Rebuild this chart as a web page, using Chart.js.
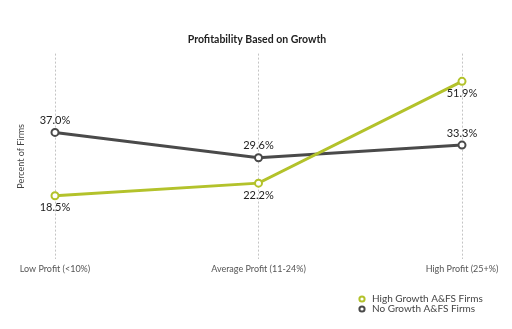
<!DOCTYPE html>
<html>
<head>
<meta charset="utf-8">
<script src="https://cdn.jsdelivr.net/npm/chart.js@4.4.1/dist/chart.umd.min.js"></script>
<style>
  html, body { margin: 0; padding: 0; background: #fff; }
  #wrap { width: 512px; height: 329px; }
</style>
</head>
<body>
<div id="wrap"><canvas id="c" width="512" height="329"></canvas></div>
<script>
// Profitability by growth segment, percent of firms
const categories = ['Low Profit (<10%)', 'Average Profit (11-24%)', 'High Profit (25+%)'];
const highGrowth = [18.5, 22.2, 51.9];
const noGrowth = [37.0, 29.6, 33.3];
const seriesNames = ['High Growth A&FS Firms', 'No Growth A&FS Firms'];

const GREEN = '#b3c22b';
const GREY = '#4a4a4a';
const FONT = 'Lato, "Open Sans", sans-serif';

// Writes each point's value next to it, above or below per dataset
const valueLabels = {
  id: 'valueLabels',
  afterDatasetsDraw(chart) {
    const ctx = chart.ctx;
    ctx.save();
    ctx.font = '11px ' + FONT;
    ctx.fillStyle = '#222';
    ctx.textAlign = 'center';
    ctx.textBaseline = 'middle';
    chart.data.datasets.forEach((ds, i) => {
      const meta = chart.getDatasetMeta(i);
      const dy = ds.labelSide === 'below' ? 12 : -12;
      meta.data.forEach((pt, j) => {
        ctx.fillText(ds.data[j].toFixed(1) + '%', pt.x, pt.y + dy);
      });
    });
    ctx.restore();
  }
};

// Stacked legend in the lower right corner
const stackedLegend = {
  id: 'stackedLegend',
  afterDraw(chart) {
    const ctx = chart.ctx;
    ctx.save();
    ctx.font = '10px ' + FONT;
    ctx.textBaseline = 'middle';
    ctx.textAlign = 'left';
    const x0 = 362, y0 = 299, step = 10;
    chart.data.datasets.forEach((ds, i) => {
      const y = y0 + i * step;
      ctx.beginPath();
      ctx.arc(x0, y, 2.6, 0, Math.PI * 2);
      ctx.fillStyle = '#fff';
      ctx.fill();
      ctx.lineWidth = 2;
      ctx.strokeStyle = ds.borderColor;
      ctx.stroke();
      ctx.fillStyle = '#444';
      ctx.fillText(ds.label, x0 + 10, y);
    });
    ctx.restore();
  }
};

new Chart(document.getElementById('c'), {
  type: 'line',
  data: {
    labels: categories,
    datasets: [
      {
        label: seriesNames[0],
        data: highGrowth,
        borderColor: GREEN,
        backgroundColor: '#fff',
        borderWidth: 3,
        pointRadius: 3.5,
        pointBorderWidth: 2,
        pointBackgroundColor: '#fff',
        pointBorderColor: GREEN,
        tension: 0,
        labelSide: 'below'
      },
      {
        label: seriesNames[1],
        data: noGrowth,
        borderColor: GREY,
        backgroundColor: '#fff',
        borderWidth: 3,
        pointRadius: 3.5,
        pointBorderWidth: 2,
        pointBackgroundColor: '#fff',
        pointBorderColor: GREY,
        tension: 0,
        labelSide: 'above'
      }
    ]
  },
  options: {
    responsive: false,
    animation: false,
    devicePixelRatio: 1,
    layout: { padding: { left: 14, right: 12, top: 0, bottom: 51 } },
    plugins: {
      legend: { display: false },
      tooltip: { enabled: false },
      title: {
        display: true,
        text: 'Profitability Based on Growth',
        color: '#222',
        font: { family: FONT, size: 10.5, weight: 'bold' },
        padding: { top: 33, bottom: 8 }
      }
    },
    scales: {
      x: {
        offset: false,
        grid: {
          display: true,
          color: '#c4c4c4',
          lineWidth: 1,
          drawTicks: false
        },
        border: { display: false, dash: [2, 2] },
        ticks: {
          color: '#555',
          font: { family: FONT, size: 9 },
          padding: 4,
          maxRotation: 0
        }
      },
      y: {
        min: 0,
        max: 60,
        grid: { display: false },
        border: { display: false },
        ticks: { display: false },
        title: {
          display: true,
          text: 'Percent of Firms',
          color: '#444',
          font: { family: FONT, size: 9 },
          padding: 2
        },
        afterFit(scale) { scale.width = 41; }
      },
      // empty right-hand gutter so the plot ends short of the edge
      yRight: {
        position: 'right',
        min: 0,
        max: 60,
        grid: { display: false },
        border: { display: false },
        ticks: { display: false },
        afterFit(scale) { scale.width = 38; }
      }
    }
  },
  plugins: [valueLabels, stackedLegend]
});
</script>
</body>
</html>
